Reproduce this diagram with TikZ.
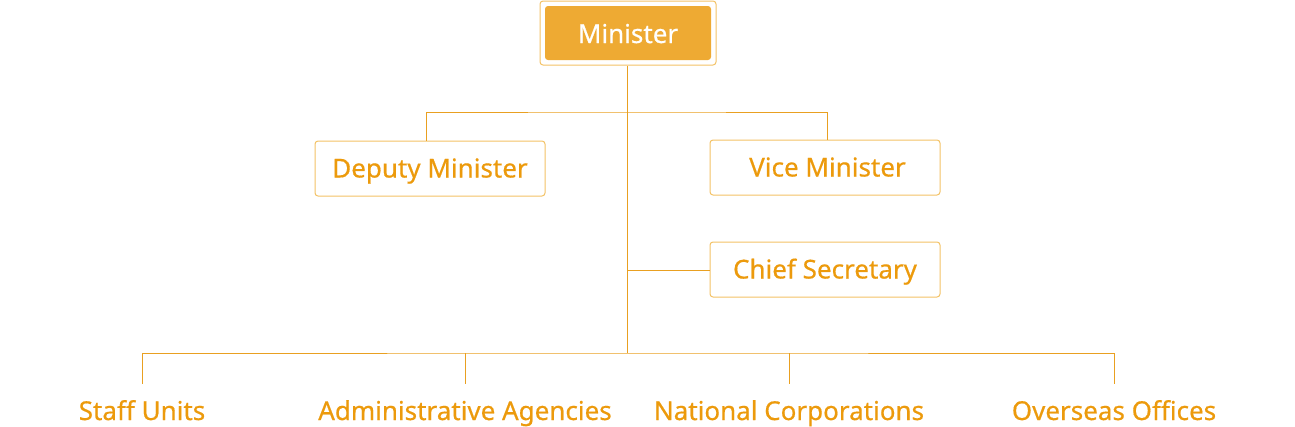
\documentclass[tikz,border=0pt]{standalone}
\usepackage{fontspec}
\setmainfont[FakeBold=0.5]{Noto Sans}
\definecolor{txt}{HTML}{EC9A0C}
\definecolor{fillc}{HTML}{EEAA33}
\definecolor{boxc}{HTML}{F3C265}
\definecolor{linec}{HTML}{E9A021}
\begin{document}
\begin{tikzpicture}[x=1pt,y=-1pt,
  fnt/.style={font=\fontsize{26}{29}\selectfont\bfseries},
  box/.style={draw=boxc,line width=1pt,rounded corners=3pt,text=txt,fnt,inner sep=0pt,text height=19pt,text depth=1pt},
  lbl/.style={text=txt,fnt,inner sep=0pt,anchor=base},
  conn/.style={draw=linec,line width=0.9pt}]
\useasboundingbox (0,0) rectangle (1295,426);
\node[box,minimum width=176pt,minimum height=64pt] (mo) at (628,33) {};
\node[fill=fillc,rounded corners=3pt,minimum width=166pt,minimum height=54pt,text=white,fnt,inner sep=0pt,text height=20pt,text depth=0pt] (m) at (628,33) {Minister};
\node[box,minimum width=230pt,minimum height=55pt] (dep) at (430,168.5) {Deputy Minister\hspace{4pt}};
\node[box,minimum width=230pt,minimum height=55pt] (vice) at (825,167.5) {\hspace{5pt}Vice Minister};
\node[box,minimum width=230pt,minimum height=55pt] (chief) at (825,269.5) {Chief Secretary};
\node[lbl] (s1) at (142,420) {Staff Units};
\node[lbl] (s2) at (465,420) {Administrative Agencies};
\node[lbl] (s3) at (789,420) {National Corporations};
\node[lbl] (s4) at (1114,420) {Overseas Offices};
\coordinate (top) at (627,65);
\coordinate (bus1) at (627,112);
\coordinate (cj) at (627,270);
\coordinate (bus2) at (627,353);
\draw[conn] (mo.south -| top) -- (bus2);
\draw[conn] (dep.north -| 426,0) |- (bus1) -| (vice.north -| 827,0);
\draw[conn] (cj) -- (chief.west |- cj);
\draw[conn] (142,384) |- (bus2) -| (1114,384);
\draw[conn] (465,353) -- (465,384);
\draw[conn] (789,353) -- (789,384);
\end{tikzpicture}
\end{document}
